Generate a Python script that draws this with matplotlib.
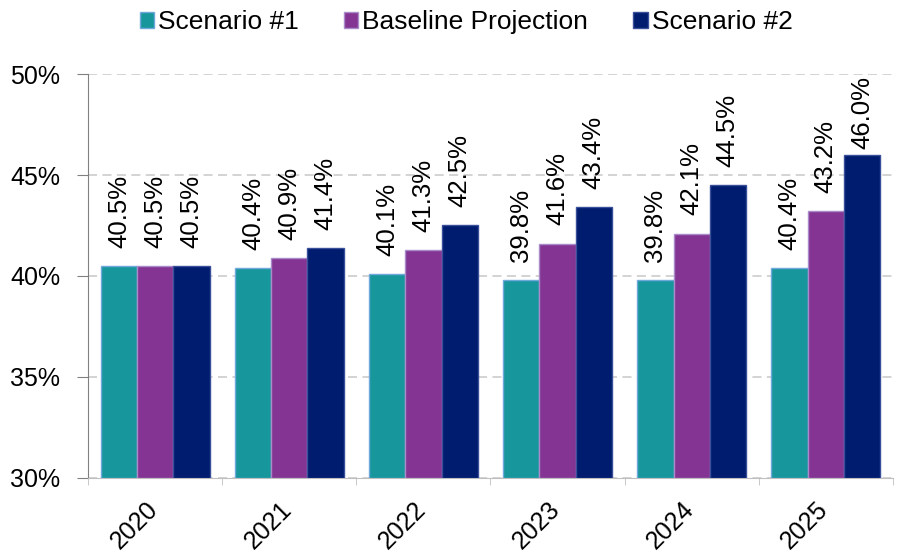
import matplotlib
matplotlib.use("Agg")
import matplotlib.pyplot as plt
import matplotlib.transforms as mtransforms
import numpy as np
from matplotlib.ticker import FixedLocator, NullFormatter

plt.rcParams['font.family'] = ['Liberation Sans', 'DejaVu Sans']

years = ['2020', '2021', '2022', '2023', '2024', '2025']
scenario1 = [40.5, 40.4, 40.1, 39.8, 39.8, 40.4]
baseline = [40.5, 40.9, 41.3, 41.6, 42.1, 43.2]
scenario2 = [40.5, 41.4, 42.5, 43.4, 44.5, 46.0]

series = [
    ('Scenario #1', scenario1, '#17969B', '#6FA8DC'),
    ('Baseline Projection', baseline, '#843493', '#A98BC9'),
    ('Scenario #2', scenario2, '#001C6E', '#3A4F9A'),
]

fig = plt.figure(figsize=(9, 5.53), dpi=100)
ax = fig.add_axes([0.098, 0.136, 0.894, 0.730])

x = np.arange(len(years))
w = 0.27
for i, (name, vals, col, edge) in enumerate(series):
    pos = x + (i - 1) * w
    ax.bar(pos, [v - 30 for v in vals], width=w, bottom=30, color=col,
           edgecolor=edge, linewidth=1, label=name, zorder=3)
    for p, v in zip(pos, vals):
        # keep labels inside the plot area (as the original does for the tallest bar)
        ly = min(v + 0.9, 46.3)
        ax.text(p, ly, f'{v:.1f}%', rotation=90, ha='center',
                va='bottom', fontsize=18.5, color='black')

ax.set_ylim(30, 50)
ax.set_xlim(-0.5, len(years) - 0.5)
ax.set_yticks([30, 35, 40, 45, 50])
ax.set_yticklabels([f'{t}%' for t in [30, 35, 40, 45, 50]], fontsize=18)
ax.yaxis.grid(True, linestyle=(0, (5, 3)), color='#D0D0D0', linewidth=1.3, zorder=0)

ax.set_xticks(x)
ax.set_xticklabels(years, rotation=45, fontsize=18, ha='right',
                   rotation_mode='default')
ax.tick_params(axis='x', length=0, pad=14)
# nudge the year labels a little to the right
shift = mtransforms.ScaledTranslation(7 / 100, 0, fig.dpi_scale_trans)
for lbl in ax.get_xticklabels():
    lbl.set_transform(lbl.get_transform() + shift)
ax.xaxis.set_minor_locator(FixedLocator(np.arange(-0.5, len(years), 1)))
ax.xaxis.set_minor_formatter(NullFormatter())
ax.tick_params(axis='x', which='minor', length=5, color='#BFBFBF')
ax.tick_params(axis='y', length=8, color='#808080', pad=12)

for s in ['top', 'right']:
    ax.spines[s].set_visible(False)
ax.spines['left'].set_color('#808080')
ax.spines['bottom'].set_color('#BFBFBF')

leg = fig.legend(loc='center', bbox_to_anchor=(0.518, 0.96), ncol=3,
                 frameon=False, fontsize=19, handlelength=0.55, handleheight=0.55,
                 handletextpad=0.15, columnspacing=1.7)

fig.savefig('out.png', dpi=100)
